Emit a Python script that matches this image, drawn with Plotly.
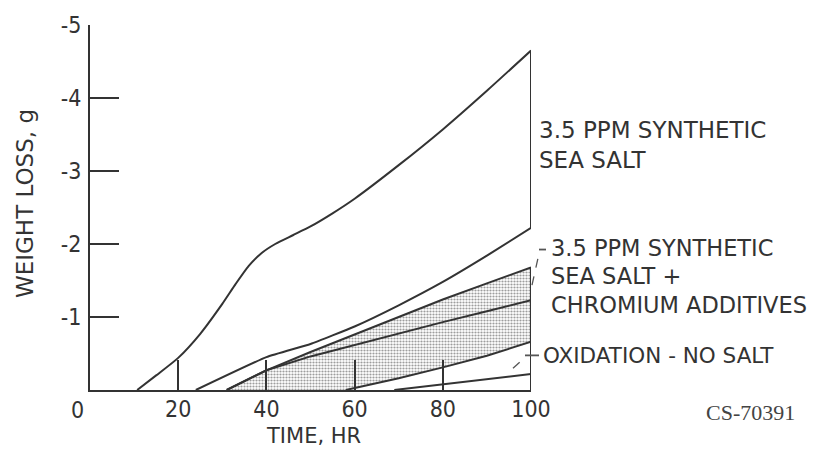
import plotly.graph_objects as go

# ---- data ----
x_tick_vals = [20, 40, 60, 80, 100]
x_tick_text = ["20", "40", "60", "80", "100"]
x_origin_label = "0"
y_tick_vals = [-1, -2, -3, -4, -5]
y_tick_text = ["-1", "-2", "-3", "-4", "-5"]

# 3.5 ppm synthetic sea salt band: upper bound
t_salt_high = [10.7, 15, 20, 25, 30, 33, 36, 39, 42, 46, 50, 55, 60, 70, 80, 90, 100]
w_salt_high = [0, -0.2, -0.44, -0.77, -1.18, -1.45, -1.7, -1.88, -2.0, -2.12, -2.24, -2.42,
               -2.62, -3.08, -3.57, -4.1, -4.65]
# sea salt band: lower bound
t_salt_low = [24, 40, 50, 60, 70, 80, 90, 100]
w_salt_low = [0, -0.45, -0.63, -0.87, -1.16, -1.48, -1.84, -2.22]

# sea salt + chromium additives (shaded band)
t_cr_high = [31, 40, 50, 60, 70, 80, 90, 100]
w_cr_high = [0, -0.27, -0.52, -0.76, -1.0, -1.24, -1.46, -1.68]
t_cr_mid = [31, 40, 50, 60, 70, 80, 90, 100]
w_cr_mid = [0, -0.27, -0.46, -0.62, -0.78, -0.93, -1.08, -1.23]
t_cr_low = [58, 70, 80, 90, 100]
w_cr_low = [0, -0.16, -0.31, -0.47, -0.66]

# oxidation - no salt
t_ox = [69, 80, 90, 100]
w_ox = [0, -0.08, -0.15, -0.22]

LINE = "#333333"
FONT = "DejaVu Sans, sans-serif"
TICKFONT = "DejaVu Sans Condensed, DejaVu Sans, sans-serif"

fig = go.Figure()

# shaded chromium band
fig.add_trace(go.Scatter(
    x=t_cr_high + t_cr_low[::-1],
    y=w_cr_high + w_cr_low[::-1],
    mode="lines", fill="toself", line=dict(width=0),
    fillcolor="rgba(0,0,0,0)",
    fillpattern=dict(shape=".", fgcolor="#3c3c3c", bgcolor="white", size=3, solidity=0.42),
    hoverinfo="skip", showlegend=False))

# sea salt band outline (upper curve, right edge, lower curve)
fig.add_trace(go.Scatter(
    x=t_salt_high, y=w_salt_high, mode="lines",
    line=dict(color=LINE, width=2, shape="spline", smoothing=0.6),
    showlegend=False, hoverinfo="skip"))
fig.add_trace(go.Scatter(
    x=[t_salt_high[-1], t_salt_low[-1]], y=[w_salt_high[-1], w_salt_low[-1]], mode="lines",
    line=dict(color=LINE, width=2), showlegend=False, hoverinfo="skip"))
fig.add_trace(go.Scatter(
    x=t_salt_low, y=w_salt_low, mode="lines",
    line=dict(color=LINE, width=2, shape="spline", smoothing=0.4),
    showlegend=False, hoverinfo="skip"))

# chromium band lines and oxidation line
for tx, wy in [(t_cr_high, w_cr_high), (t_cr_mid, w_cr_mid), (t_cr_low, w_cr_low), (t_ox, w_ox)]:
    fig.add_trace(go.Scatter(
        x=tx, y=wy, mode="lines",
        line=dict(color=LINE, width=2), showlegend=False, hoverinfo="skip"))
# right edge of lower band
fig.add_trace(go.Scatter(
    x=[t_cr_high[-1], t_cr_high[-1]], y=[w_cr_high[-1], 0], mode="lines",
    line=dict(color=LINE, width=2), showlegend=False, hoverinfo="skip"))

W, H = 818, 453
L, R, T, B = 90, 531, 21, 390


def px(x):
    return (x - L) / (R - L)


def py(y):
    return (B - y) / (B - T)


def note(text, x, y, size=23, family=FONT, anchor="left", color=LINE):
    fig.add_annotation(text=text, xref="paper", yref="paper", x=px(x), y=py(y),
                       xanchor=anchor, yanchor="middle", showarrow=False,
                       font=dict(family=family, size=size, color=color))


note("3.5 PPM SYNTHETIC", 537, 127)
note("SEA SALT", 537, 157)
note("3.5 PPM SYNTHETIC", 549, 246, size=22.5)
note("SEA SALT +", 549, 275, size=22.5)
note("CHROMIUM ADDITIVES", 549, 304, size=22.5)
note("OXIDATION - NO SALT", 541, 355, size=21.5)
note("WEIGHT LOSS, g", 25, 202, size=23)
fig.layout.annotations[-1].textangle = -90
fig.layout.annotations[-1].xanchor = "center"
note("TIME, HR", 313, 437, size=21, anchor="center")
note(x_origin_label, 77, 410, size=23, family=TICKFONT, anchor="center")
note("CS-70391", 750, 413, size=22, family="Liberation Serif, DejaVu Serif, serif",
     anchor="center", color="#444")


def seg(x0, y0, x1, y1, dash="solid", w=1.3):
    fig.add_shape(type="line", xref="paper", yref="paper",
                  x0=px(x0), y0=py(y0), x1=px(x1), y1=py(y1),
                  line=dict(color="#555", width=w, dash=dash))


seg(532, 284, 539, 252, dash="dash")
seg(539, 248, 546, 248, w=1.8)
seg(513, 368, 525, 357, dash="dash")
seg(525, 355, 539, 355, w=1.8)

fig.update_layout(
    width=W, height=H,
    margin=dict(l=L, r=W - R, t=T, b=H - B),
    paper_bgcolor="white", plot_bgcolor="white",
    showlegend=False,
    font=dict(family=FONT, color=LINE, size=21),
    xaxis=dict(range=[0, 100], showgrid=False, zeroline=False,
               showline=True, linecolor=LINE, linewidth=2,
               ticks="inside", ticklen=30, tickwidth=1.5, tickcolor=LINE,
               tickvals=x_tick_vals, ticktext=x_tick_text,
               tickfont=dict(size=23, family=TICKFONT), ticklabelstandoff=-3),
    yaxis=dict(range=[0, -5], showgrid=False, zeroline=False,
               showline=True, linecolor=LINE, linewidth=2,
               ticks="inside", ticklen=29, tickwidth=2, tickcolor=LINE,
               tickvals=y_tick_vals, ticktext=y_tick_text,
               tickfont=dict(size=23, family=TICKFONT), ticklabelstandoff=2),
)

fig.write_html("out.html", config={"displayModeBar": False},
               post_script="document.body.style.margin='0';")
